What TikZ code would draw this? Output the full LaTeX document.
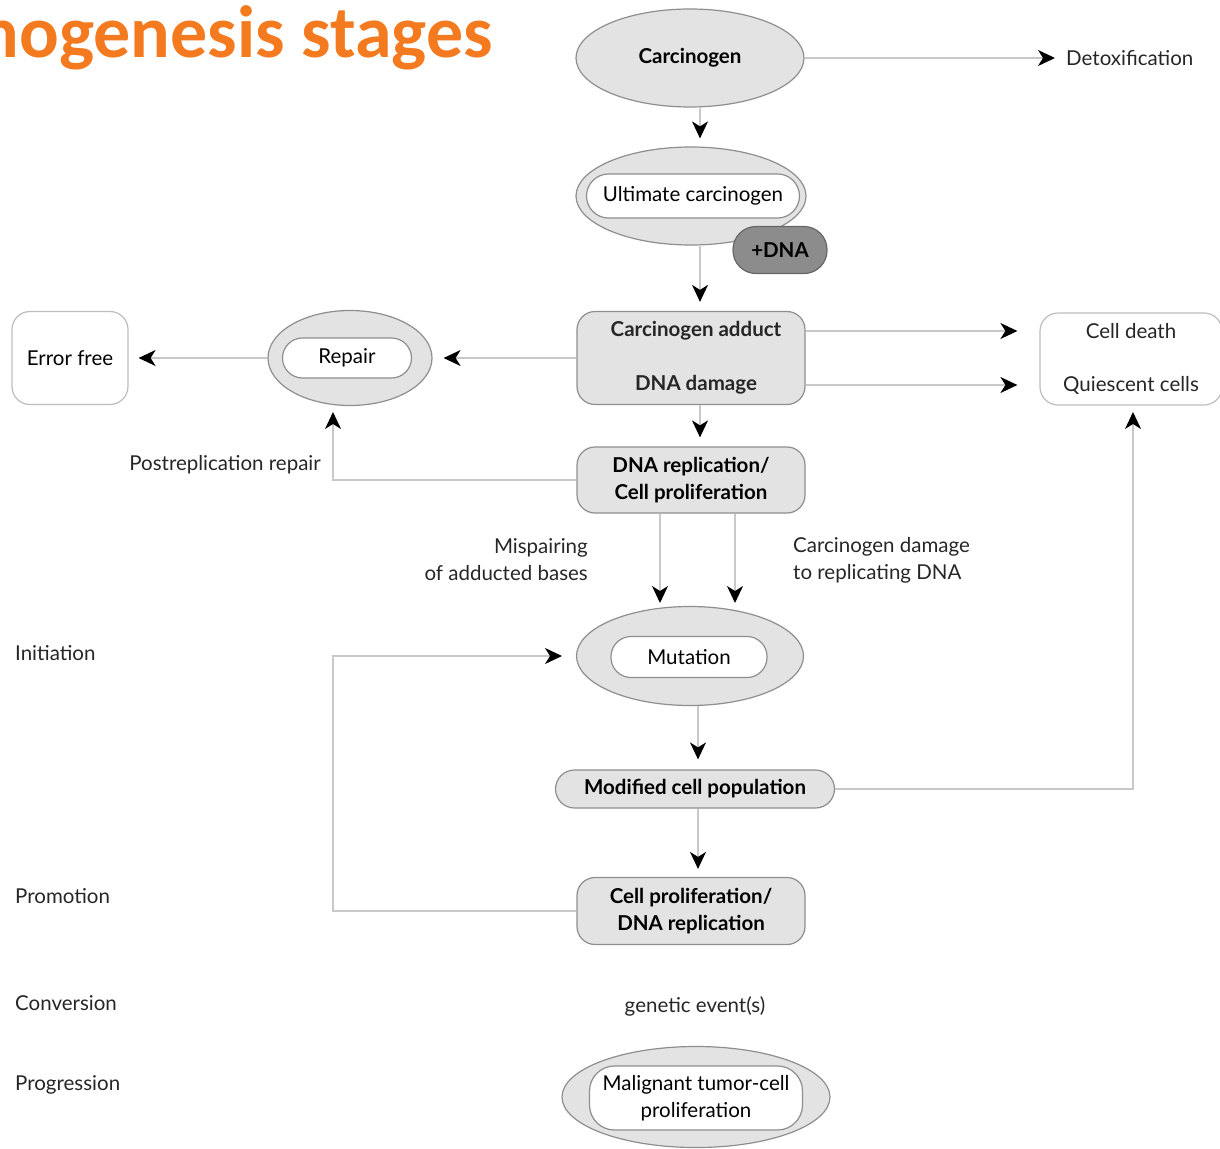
\documentclass[tikz,border=0pt]{standalone}
\usepackage{fontspec}
\setmainfont{Lato}
\newfontfamily\titlefont{Carlito}
\usetikzlibrary{shapes.geometric,arrows.meta,calc}
\definecolor{fillg}{HTML}{E3E3E3}
\definecolor{edgeg}{HTML}{8E8E8E}
\definecolor{lineg}{HTML}{C8C8C8}
\definecolor{boxg}{HTML}{BDBDBD}
\definecolor{dnag}{HTML}{8C8C8C}
\definecolor{ttl}{HTML}{F47A20}
\begin{document}
\begin{tikzpicture}[x=1pt,y=-1pt,
  font=\fontsize{20.5}{27}\selectfont,
  outerell/.style={ellipse, draw=edgeg, fill=fillg, line width=1.2pt, inner sep=0pt},
  innerpill/.style={rectangle, draw=edgeg, fill=white, line width=1.2pt, inner sep=0pt},
  graybox/.style={rectangle, draw=edgeg, fill=fillg, line width=1.2pt, inner sep=0pt, rounded corners=18pt, align=center, font=\fontsize{20.5}{27}\selectfont\bfseries},
  whitebox/.style={rectangle, draw=boxg, fill=white, line width=1.2pt, inner sep=0pt, rounded corners=18pt},
  conn/.style={draw=lineg, line width=1.4pt, -{Stealth[length=17pt,width=16pt,inset=5pt,color=black]}},
  lbl/.style={inner sep=0pt, text=black!85, align=center}
]
\clip (0,0) rectangle (1220,1148);
\useasboundingbox (0,0) rectangle (1220,1148);

% title
\node[anchor=base east, inner sep=0pt, text=ttl, font=\titlefont\fontsize{74}{80}\selectfont\bfseries] (title) at (493,58) {Carcinogenesis stages};

% coordinates for arrow columns / free ends
\coordinate (ar) at (700,0);
\coordinate (ar2) at (698,0);
\coordinate (m1) at (660,603);
\coordinate (m2) at (735,603);
\coordinate (prA) at (333,412);
\coordinate (cdA) at (1133,412);
\coordinate (lp) at (333,656);
\coordinate (mtip) at (562,656);

% nodes
\node[outerell, minimum width=228pt, minimum height=98pt, font=\fontsize{20.5}{27}\selectfont\bfseries] (carc) at (690,58) {Carcinogen};
\node[lbl, anchor=west] (detox) at (1066,58) {Detoxification};

\node[outerell, minimum width=230pt, minimum height=98pt] (ultO) at (691,196) {};
\node[innerpill, minimum width=213pt, minimum height=44pt, rounded corners=22pt] (ult) at (693,196) {Ultimate carcinogen};
\node[rectangle, rounded corners=23pt, draw=black!60, line width=1.2pt, fill=dnag, minimum width=94pt, minimum height=47pt, inner sep=0pt, font=\fontsize{20.5}{27}\selectfont\bfseries] (dna) at (780,250) {+DNA};

\node[graybox, minimum width=228pt, minimum height=93pt] (add) at (691,358) {};
\node[lbl, font=\fontsize{20.5}{27}\selectfont\bfseries] (addt) at (696,331) {Carcinogen adduct};
\node[lbl, font=\fontsize{20.5}{27}\selectfont\bfseries] (dmg) at (696,385) {DNA damage};

\node[whitebox, minimum width=182pt, minimum height=92pt] (cd) at (1131,359) {};
\node[lbl] (cdt) at (1131,331) {Cell death};
\node[lbl] (qc) at (1131,385) {Quiescent cells};

\node[outerell, minimum width=164pt, minimum height=95pt] (repO) at (350,358) {};
\node[innerpill, minimum width=129pt, minimum height=40pt, rounded corners=20pt] (rep) at (347,358) {Repair};

\node[whitebox, minimum width=116pt, minimum height=93pt] (ef) at (70,358) {Error free};

\node[graybox, minimum width=228pt, minimum height=66pt] (dnarep) at (691,480) {DNA replication/\\Cell proliferation};
\node[lbl, anchor=east] (postr) at (321,465) {Postreplication repair};

\node[lbl, anchor=east, align=right] (misp) at (588,560) {Mispairing\\of adducted bases};
\node[lbl, anchor=west, align=left] (cdmg) at (793,560) {Carcinogen damage\\to replicating DNA};

\node[outerell, minimum width=227pt, minimum height=99pt] (mutO) at (690,656) {};
\node[innerpill, minimum width=156pt, minimum height=41pt, rounded corners=20pt] (mut) at (689,657) {Mutation};

\node[graybox, minimum width=279pt, minimum height=38pt, rounded corners=19pt] (mod) at (695,789) {Modified cell population};

\node[graybox, minimum width=228pt, minimum height=67pt] (cp) at (691,911) {Cell proliferation/\\DNA replication};

\node[lbl] (gen) at (695,1006) {genetic event(s)};

\node[outerell, minimum width=268pt, minimum height=101pt] (malO) at (696,1097) {};
\node[innerpill, minimum width=213pt, minimum height=64pt, rounded corners=25pt, align=center] (mal) at (696,1098) {Malignant tumor-cell\\proliferation};

% stage labels
\node[lbl, anchor=west] (s1) at (15,653) {Initiation};
\node[lbl, anchor=west] (s2) at (15,896) {Promotion};
\node[lbl, anchor=west] (s3) at (15,1003) {Conversion};
\node[lbl, anchor=west] (s4) at (15,1085) {Progression};

% connectors
\draw[conn, shorten >=11pt] (carc.east) -- (detox.west);
\draw[conn, shorten >=8pt] (carc.south -| ar) -- (ultO.north -| ar);
\draw[conn, shorten >=9pt] (ultO.south -| ar) -- (add.north -| ar);
\draw[conn, shorten >=22pt] (add.east |- addt) -- (cd.west |- addt);
\draw[conn, shorten >=22pt] (add.east |- dmg) -- (cd.west |- dmg);
\draw[conn, shorten >=11pt] (add.west) -- (repO.east);
\draw[conn, shorten >=10pt] (repO.west) -- (ef.east);
\draw[conn, shorten >=9pt] (add.south -| ar) -- (dnarep.north -| ar);
\draw[conn] (dnarep.west) -| (prA);
\draw[conn] (dnarep.south -| m1) -- (m1);
\draw[conn] (dnarep.south -| m2) -- (m2);
\draw[conn, shorten >=10pt] (mutO.south -| ar2) -- (mod.north -| ar2);
\draw[conn] (mod.east) -| (cdA);
\draw[conn, shorten >=8pt] (mod.south -| ar2) -- (cp.north -| ar2);
\draw[conn] (cp.west) -| (lp) -- (mtip);
\end{tikzpicture}
\end{document}
